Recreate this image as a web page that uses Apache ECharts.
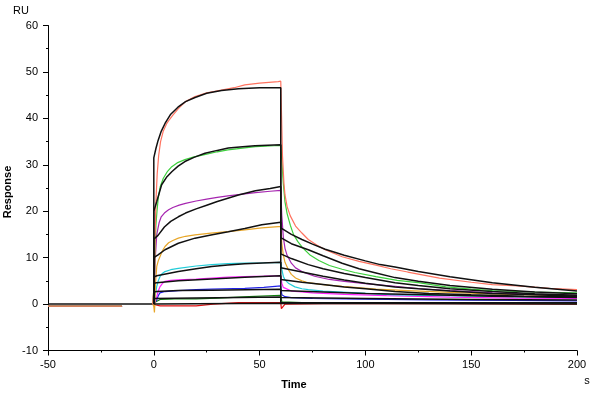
<!DOCTYPE html>
<html>
<head>
<meta charset="utf-8">
<script src="https://cdn.jsdelivr.net/npm/echarts@6/dist/echarts.min.js"></script>
<style>
html,body{margin:0;padding:0;background:#fff;}
#c{width:590px;height:393px;}
</style>
</head>
<body>
<div id="c"></div>
<script>
// ---- axis ticks ----
const xTicks = [-50, 0, 50, 100, 150, 200];
const yTicks = [-10, 0, 10, 20, 30, 40, 50, 60];

// ---- pre-injection baseline (time, response) ----
const preBaseline = [[-50, -0.45], [-15, -0.45]];
const fitBaseline = [[-50, 0], [0, 0]];

// ---- measured curves [time s, response RU] ----
const salmonData = [[-0.5,0],[0.3,5],[0.6,14],[1,22],[1.6,28],[2.3,32],[3.2,35],[4.5,37.3],[6,38.8],[7.5,39.8],[9,40.7],[11.6,42.1],[15,43.6],[19.5,44.7],[25,45.5],[32,46.1],[38,46.6],[43,47.2],[50,47.6],[58.8,47.9],[60,48],[60.4,40],[60.8,32],[61.5,26],[62,23.5],[63,21],[64.5,19],[67,16.8],[70,15.3],[73,13.9],[77,12.7],[81,11.7],[89,10.2],[97,9.2],[105,8.4],[112,7.6],[120,6.9],[135,5.6],[150,4.7],[160,4.2],[172,3.9],[187,3.4],[200,3.1]];
const greenData = [[-0.5,0],[0.3,5],[0.6,12],[1,17],[1.5,20],[2.1,22.8],[3,25.2],[4.5,27.1],[6.5,28.6],[8.5,29.6],[11,30.4],[14.7,31.1],[19,31.7],[24,32.2],[30,32.8],[35,33.2],[42,33.6],[48,33.9],[57,34.1],[60,34.2],[60.5,31],[61.2,26],[62,22],[63,19.5],[64.5,17],[66,15],[68,13.5],[70,12.3],[74,10.5],[78,9.4],[83,8.3],[89,7.5],[95,6.8],[105,5.9],[115,5.1],[125,4.6],[138,3.7],[150,3.2],[160,2.9],[180,2.6],[200,2.4]];
const purpleData = [[-0.5,0],[0.3,4],[0.7,10],[1.4,15],[2.5,17.5],[3.5,18.8],[5,19.6],[7,20.3],[9,20.8],[12,21.3],[15,21.7],[20,22.2],[25,22.6],[30,23],[35,23.3],[42,23.7],[48,24],[55,24.3],[60,24.5],[60.5,19],[61.2,14.5],[62,12],[63,10.5],[65,8.8],[67,7.8],[70,7],[76,6],[83,5.3],[90,4.9],[100,4.4],[114,3.8],[126,3.3],[140,2.9],[160,2.4],[180,2.1],[200,1.9]];
const orangeData = [[-0.5,0],[0,-0.5],[0.3,-1.8],[0.5,0],[0.8,4.5],[1.4,8.1],[2.1,9.3],[2.9,10.2],[4,11.4],[5.3,12.4],[7,13.2],[9,13.7],[11.6,14.2],[15,14.6],[19.5,14.9],[27,15.3],[35,15.6],[43,16],[51,16.4],[58.8,16.7],[60,16.7],[60.5,13],[61.2,10.6],[62,9],[63.6,7.4],[65,6.4],[67,5.6],[70,5.0],[73,4.6],[80,4.2],[89,3.8],[105,3.2],[120,2.9],[140,2.5],[160,2.2],[180,2.0],[200,1.8]];
const cyanData = [[-0.5,0],[0.3,0.5],[0.6,1.6],[1.4,3.8],[2.1,5.0],[2.9,5.9],[4,6.6],[5.3,7.0],[8,7.4],[11.6,7.7],[20,8.2],[27.4,8.5],[35,8.7],[43,8.8],[52,8.9],[60,9.0],[60.5,7.5],[61.2,6],[62,5.2],[63.6,4.5],[66.7,3.7],[70,3.3],[73,3.1],[80,2.8],[89,2.6],[105,2.2],[114,2.0],[140,1.8],[170,1.6],[200,1.5]];
const magentaData = [[-0.5,0],[0.5,0.5],[1.4,1.6],[2.1,2.8],[2.9,3.7],[4,4.4],[5.3,4.9],[8,5.1],[11.6,5.2],[20,5.4],[27.4,5.6],[35,5.8],[43,5.9],[52,6.0],[60,6.1],[60.5,4.5],[61.2,3.6],[62,3.2],[65,2.8],[70,2.6],[75,2.4],[90,2.1],[110,1.8],[140,1.5],[170,1.3],[200,1.2]];
const blueData = [[-0.5,0],[0.5,0.3],[1.4,0.9],[2.1,1.8],[2.9,2.4],[5.3,2.7],[11.6,2.9],[20,3.1],[27.4,3.2],[43,3.4],[52,3.6],[60,3.9],[60.5,2.0],[62,1.6],[65,1.4],[75,1.2],[90,1.1],[130,0.9],[170,0.8],[200,0.7]];
const darkGreenData = [[-0.5,0],[1,0.5],[3,1.0],[10,1.1],[20,1.1],[30,1.3],[45,1.6],[60,1.9],[60.5,0.5],[70,0.3],[100,0.2],[200,0.2]];
const redData = [[-0.5,0],[1,-0.2],[3,-0.4],[20,-0.4],[28,0],[40,0.3],[60,0.3],[60.3,-1],[61,-1],[62,0],[80,0.1],[140,0.1],[200,0]];

// ---- fitted curves [time s, response RU] ----
const fit1 = [[0,0],[0,31.5],[1,33.5],[2,35.2],[3.5,37.2],[5.3,38.9],[8,40.9],[11.4,42.4],[15,43.6],[19.5,44.5],[25,45.4],[32,46],[40,46.4],[50,46.6],[60,46.6],[60,16.4],[65,15.0],[70,13.9],[75,12.9],[81,11.8],[90,10.5],[100,9.3],[107,8.5],[114,8.0],[125,7.0],[140,5.9],[160,4.6],[180,3.6],[200,2.8]];
const fit2 = [[0,0],[0,20],[1.4,22.1],[3.7,25.7],[6,27.3],[8.5,28.5],[11.5,29.7],[14.7,30.7],[19,31.6],[24.2,32.5],[30,33.1],[35.2,33.6],[42,33.9],[47.8,34.1],[60,34.3],[60,14.3],[65,13.0],[73,11.7],[80,10.4],[89,8.8],[97,7.6],[105,6.7],[114,5.7],[125,4.9],[140,4.0],[160,3.2],[180,2.6],[200,2.2]];
const fit3 = [[0,0],[0,14],[2,14.8],[5,16.6],[8,17.8],[11.6,18.8],[15,19.6],[20,20.5],[25,21.3],[30,22.1],[35,22.8],[40,23.5],[48,24.4],[55,24.9],[60,25.3],[60,10.8],[65,9.8],[73,8.5],[80,7.6],[90,6.6],[100,5.7],[114,4.6],[125,4.0],[140,3.3],[160,2.7],[180,2.2],[200,1.9]];
const fit4 = [[0,0],[0,10],[2,10.6],[5.3,11.7],[11.6,13.1],[19.5,14.2],[27,14.9],[35.2,15.6],[43,16.3],[51,17.1],[60,17.6],[60,7.8],[70,6.9],[80,6.0],[90,5.2],[100,4.5],[114,3.7],[125,3.3],[140,2.8],[160,2.3],[180,2.0],[200,1.7]];
const fit5 = [[0,0],[0,5.8],[1.4,6.1],[11.6,7.0],[20,7.6],[27.4,8.1],[35,8.4],[43,8.7],[60,9.0],[60,5.3],[70,4.7],[80,4.2],[90,3.7],[100,3.3],[114,2.7],[130,2.3],[150,2.0],[175,1.7],[200,1.5]];
const fit6 = [[0,0],[0,4.5],[1.4,4.6],[11.6,5.0],[27.4,5.4],[43,5.8],[60,6.1],[60,2.9],[80,2.6],[100,2.3],[130,2.0],[160,1.7],[200,1.4]];
const fit7 = [[0,0],[0,2.6],[1.4,2.7],[11.6,2.9],[27.4,3.0],[60,3.2],[60,1.4],[100,1.2],[150,1.0],[200,0.9]];
const fit8 = [[0,0],[0,1.2],[60,1.5],[60,0.3],[200,0.3]];
const fit9 = [[0,0],[0,0.1],[60,0.2],[60,0],[200,0]];

const measured = [
  {name:'red', color:'#E01010', data:redData},
  {name:'darkgreen', color:'#118011', data:darkGreenData},
  {name:'blue', color:'#2222E6', data:blueData},
  {name:'magenta', color:'#FF22FF', data:magentaData},
  {name:'cyan', color:'#22CCD8', data:cyanData},
  {name:'orange', color:'#E8A628', data:orangeData},
  {name:'purple', color:'#A626B0', data:purpleData},
  {name:'green', color:'#3CD03C', data:greenData},
  {name:'salmon', color:'#FF7360', data:salmonData}
];
const fits = [fit1, fit2, fit3, fit4, fit5, fit6, fit7, fit8, fit9];

const series = [];
series.push({type:'line', data:fitBaseline, symbol:'none', lineStyle:{color:'#111', width:1.5}, silent:true, z:2});
measured.forEach(m => {
  const d = preBaseline.concat([[-8, '-']], m.data);
  series.push({type:'line', name:m.name, data:d, showSymbol:false, symbol:'none',
    lineStyle:{color:m.color, width:1.2}, itemStyle:{color:m.color}, silent:true, z:3});
});
fits.forEach(f => {
  series.push({type:'line', data:f, symbol:'none', lineStyle:{color:'#111', width:1.5}, silent:true, z:4});
});

const chart = echarts.init(document.getElementById('c'), null, {renderer:'canvas'});
const font = 'Liberation Sans, Arial, sans-serif';
chart.setOption({
  animation:false,
  backgroundColor:'#fff',
  grid:{left:48, right:13, top:25.5, bottom:42.5, containLabel:false},
  xAxis:{type:'value', min:xTicks[0], max:xTicks[xTicks.length-1], interval:50,
    axisLine:{show:true, onZero:false, lineStyle:{color:'#000', width:1}},
    axisTick:{show:true, length:5, lineStyle:{color:'#000'}},
    minorTick:{show:true, splitNumber:2, length:2, lineStyle:{color:'#000'}},
    splitLine:{show:false},
    axisLabel:{color:'#000', fontSize:11, fontFamily:font, margin:9}},
  yAxis:{type:'value', min:yTicks[0], max:yTicks[yTicks.length-1], interval:10,
    axisLine:{show:true, onZero:false, lineStyle:{color:'#000', width:1}},
    axisTick:{show:true, length:5, lineStyle:{color:'#000'}},
    minorTick:{show:true, splitNumber:2, length:2, lineStyle:{color:'#000'}},
    splitLine:{show:false},
    axisLabel:{color:'#000', fontSize:11, fontFamily:font, margin:10}},
  graphic:[
    {type:'text', left:13, top:5, style:{text:'RU', fill:'#000', font:'11px '+font}},
    {type:'text', x:8, y:192, rotation:Math.PI/2, style:{text:'Response', fill:'#000', font:'bold 11px '+font, textAlign:'center', textVerticalAlign:'middle'}},
    {type:'text', x:294, y:385, style:{text:'Time', fill:'#000', font:'bold 11px '+font, textAlign:'center', textVerticalAlign:'middle'}},
    {type:'text', x:587, y:381, style:{text:'s', fill:'#000', font:'11px '+font, textAlign:'center', textVerticalAlign:'middle'}}
  ],
  series:series
});
</script>
</body>
</html>
